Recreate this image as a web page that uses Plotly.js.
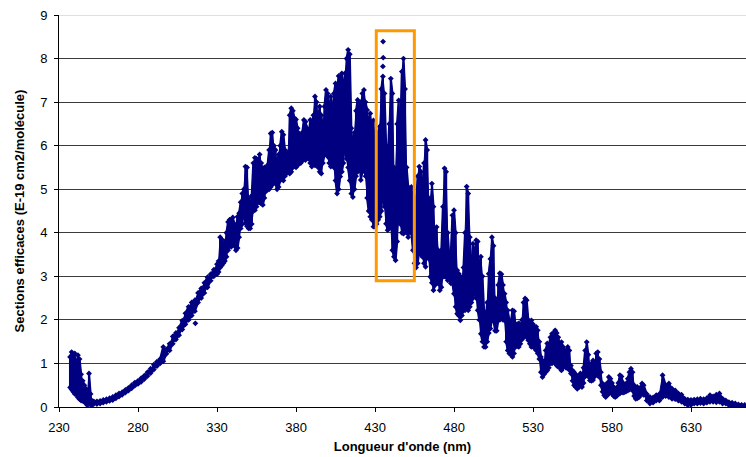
<!DOCTYPE html>
<html>
<head>
<meta charset="utf-8">
<script src="https://cdn.plot.ly/plotly-3.0.1.min.js"></script>
<style>
  html, body { margin: 0; padding: 0; background: #ffffff; }
  #chart { width: 746px; height: 457px; }
</style>
</head>
<body>
<div id="chart"></div>
<script>
// Wavelength (nm) at which the band of measured cross-sections is read
const wavelength = [
  237,238,239,240,241,242,243,244,245,246,247,248,249,250,251,252,
  254,256,258,260,262,264,266,268,270,272,274,276,278,280,282,284,286,288,290,292,294,296,298,300,
  302,304,306,308,310,312,314,316,318,320,322,324,326,328,330,
  331,332,333,334,335,336,337,338,339,340,
  341,342,343,344,345,346,347,348,349,350,
  351,352,353,354,355,356,357,358,359,360,
  361,362,363,364,365,366,367,368,369,370,
  371,372,373,374,375,376,377,378,379,380,
  381,382,383,384,385,386,387,388,389,390,
  391,392,393,394,395,396,397,398,399,400,
  401,402,403,404,405,406,407,408,409,410,
  411,412,413,414,415,416,417,418,419,420,
  421,422,423,424,425,426,427,428,429,430,
  431,432,433,434,435,436,437,438,439,440,
  441,442,443,444,445,446,447,448,449,450,
  451,452,453,454,455,456,457,458,459,460,
  461,462,463,464,465,466,467,468,469,470,
  471,472,473,474,475,476,477,478,479,480,
  481,482,483,484,485,486,487,488,489,490,
  491,492,493,494,495,496,497,498,499,500,
  501,502,503,504,505,506,507,508,509,510,
  511,512,513,514,515,516,517,518,519,520,
  521,522,523,524,525,526,527,528,529,530,
  531,532,533,534,535,536,537,538,539,540,
  541,542,543,544,545,546,547,548,549,550,
  551,552,553,554,555,556,557,558,559,560,
  561,562,563,564,565,566,567,568,569,570,
  571,572,573,574,575,576,577,578,579,580,
  581,582,583,584,585,586,587,588,589,590,
  591,592,593,594,595,596,597,598,599,600,
  602,604,606,608,610,612,614,616,618,620,622,624,626,628,630,632,
  634,636,638,640,642,644,646,648,650,652,654,656,658,660,662,664
];

// Lower edge of the band (E-19 cm2/molecule)
const sigmaLow = [
  0.45,0.40,0.35,0.30,0.28,0.22,0.18,0.15,0.14,0.12,0.08,0.04,0.10,0.05,0.05,0.07,
  0.07,0.08,0.10,0.12,0.14,0.16,0.20,0.24,0.28,0.33,0.38,0.43,0.49,0.53,0.58,0.64,0.71,0.78,0.86,0.94,1.00,1.05,1.22,1.30,
  1.45,1.55,1.65,1.78,1.90,2.00,2.10,2.20,2.40,2.50,2.62,2.75,2.90,3.00,3.05,
  3.10,3.20,3.25,3.30,3.35,3.45,3.60,3.70,3.68,3.75,
  3.70,3.60,3.65,3.90,4.10,4.20,4.40,4.22,4.15,4.10,
  4.10,4.20,4.50,4.52,4.60,4.70,4.70,4.67,4.64,4.80,
  4.95,5.00,5.00,5.05,5.10,5.20,5.13,5.00,5.05,5.20,
  5.25,5.20,5.30,5.36,5.40,5.36,5.40,5.50,5.55,5.50,
  5.55,5.59,5.60,5.65,5.70,5.67,5.75,5.70,5.60,5.52,
  5.60,5.55,5.60,5.50,5.40,5.36,5.60,5.80,5.85,5.75,
  5.60,5.52,5.60,5.50,5.20,4.90,5.00,5.29,5.40,5.60,
  5.90,5.70,5.50,5.20,4.90,4.82,5.00,5.30,5.40,5.50,
  5.21,5.40,5.50,5.30,4.80,4.50,4.37,4.30,4.14,4.14,
  4.20,4.30,4.37,4.50,4.80,4.60,4.21,4.06,4.10,4.14,
  3.60,3.45,3.37,3.80,4.36,4.20,4.00,3.98,4.10,4.00,
  3.90,4.06,4.00,3.60,3.30,3.20,3.30,3.60,3.50,3.45,
  3.30,3.22,3.45,3.40,2.99,2.85,2.68,2.80,2.84,2.84,
  2.68,2.75,2.99,3.00,2.99,2.91,2.95,2.84,2.84,2.60,
  2.30,2.14,2.10,1.99,2.10,2.22,2.22,2.30,2.22,2.30,
  2.40,2.50,2.60,2.50,2.22,2.00,1.68,1.50,1.38,1.38,
  1.50,1.70,1.80,1.99,2.00,1.75,1.75,1.99,2.00,2.05,
  2.00,1.99,1.50,1.30,1.23,1.20,1.15,1.23,1.38,1.40,
  1.38,1.45,1.55,1.60,1.68,1.60,1.53,1.45,1.38,1.40,
  1.35,1.30,1.23,1.10,0.80,0.69,0.75,0.80,0.84,0.90,
  1.00,1.00,1.05,1.00,0.95,0.92,0.90,0.84,0.90,0.95,
  0.90,0.92,0.85,0.77,0.60,0.50,0.46,0.42,0.45,0.50,
  0.46,0.55,0.70,0.77,0.70,0.61,0.60,0.62,0.70,0.75,
  0.72,0.69,0.50,0.35,0.27,0.23,0.27,0.30,0.35,0.30,
  0.25,0.23,0.25,0.30,0.31,0.35,0.33,0.34,0.36,0.38,
  0.40,0.42,0.38,0.25,0.19,0.20,0.22,0.27,0.30,0.28,
  0.15,0.08,0.10,0.15,0.15,0.23,0.25,0.23,0.19,0.18,0.15,0.12,0.08,0.04,0.05,0.08,
  0.08,0.09,0.08,0.10,0.12,0.12,0.11,0.12,0.08,0.08,0.04,0.02,0.01,0.01,0.00,0.00
];

// Upper edge of the band (E-19 cm2/molecule)
const sigmaHigh = [
  1.15,1.26,1.20,1.23,1.00,1.19,1.10,0.75,0.60,0.50,0.42,0.30,0.77,0.30,0.14,0.13,
  0.13,0.14,0.16,0.18,0.20,0.23,0.27,0.31,0.34,0.39,0.44,0.50,0.56,0.60,0.66,0.72,0.80,0.88,0.97,1.04,1.10,1.38,1.32,1.45,
  1.62,1.70,1.82,1.98,2.15,2.30,2.40,2.45,2.62,2.72,2.85,2.98,3.05,3.15,3.28,
  3.35,3.90,3.85,3.75,3.80,4.00,4.25,4.30,4.29,4.35,
  4.20,4.10,4.37,4.45,4.70,4.90,5.00,5.52,5.50,4.80,
  4.70,4.85,5.60,5.72,5.70,5.60,5.80,5.60,5.40,5.50,
  5.45,5.55,5.90,6.28,6.30,6.00,5.90,5.60,5.80,6.00,
  6.32,6.25,5.90,5.80,5.85,6.70,6.86,6.80,6.63,6.60,
  6.40,6.28,6.20,6.30,6.59,6.55,6.40,6.20,6.59,6.50,
  6.70,7.13,7.00,6.60,6.90,6.70,6.40,6.90,7.28,7.20,
  6.90,7.13,6.90,7.20,7.43,7.30,7.60,7.50,7.66,7.40,
  7.66,8.00,8.20,8.10,6.40,6.13,6.30,6.80,7.05,6.90,
  7.00,7.20,7.28,7.00,6.82,6.60,6.74,6.50,6.58,6.20,
  5.80,6.30,6.44,7.30,7.59,7.20,6.00,5.60,6.50,7.54,
  7.20,5.50,5.36,6.50,7.04,6.20,7.70,8.00,7.30,5.50,
  5.05,4.98,5.05,4.90,4.82,4.60,5.30,5.52,5.40,5.00,
  5.60,6.13,5.90,4.80,4.75,5.13,4.60,4.00,4.13,3.60,
  3.50,3.60,4.60,5.48,5.40,4.00,3.45,3.50,4.40,4.52,
  4.00,3.14,3.06,3.00,2.90,3.20,4.00,5.06,4.90,3.90,
  3.20,3.75,3.60,3.83,3.80,3.30,3.45,3.00,2.20,1.99,
  2.40,3.06,3.40,3.90,3.70,2.50,2.40,2.80,3.07,3.05,
  2.80,2.60,2.40,2.22,1.99,1.95,2.22,2.20,1.84,1.90,
  1.92,1.80,2.00,2.40,2.49,2.45,2.00,1.95,1.99,1.90,
  1.80,1.84,1.76,1.50,1.15,1.07,1.00,1.30,1.46,1.40,
  1.60,1.68,1.70,1.76,1.70,1.60,1.40,1.49,1.38,1.30,
  1.30,1.38,1.30,0.95,0.84,0.80,0.75,0.70,0.70,0.77,
  0.75,0.90,1.30,1.49,1.20,0.95,1.00,1.07,1.00,1.23,
  1.26,1.10,0.80,0.54,0.50,0.45,0.55,0.69,0.65,0.55,
  0.46,0.40,0.45,0.55,0.73,0.70,0.55,0.50,0.54,0.65,
  0.80,0.88,0.80,0.50,0.40,0.46,0.40,0.45,0.54,0.50,
  0.30,0.23,0.22,0.27,0.30,0.73,0.50,0.54,0.42,0.38,0.31,0.28,0.19,0.17,0.16,0.17,
  0.18,0.19,0.18,0.20,0.27,0.24,0.28,0.31,0.19,0.15,0.11,0.10,0.08,0.06,0.05,0.05
];

// Isolated points standing outside the band
const strayX = [316.3, 435.1, 435.2, 435.0];
const strayY = [1.92, 8.39, 8.02, 7.82];

// Highlighted window (nm, E-19 cm2/molecule)
const boxNm = [430.8, 454.9];
const boxSigma = [2.90, 8.64];

if (wavelength.length !== sigmaLow.length || wavelength.length !== sigmaHigh.length) {
  throw new Error('length mismatch ' + wavelength.length + ' ' + sigmaLow.length + ' ' + sigmaHigh.length);
}

// Filled envelope between low and high edges
const envX = wavelength.concat(wavelength.slice().reverse());
const envY = sigmaHigh.concat(sigmaLow.slice().reverse());

// Band drawn as a dense zigzag of points from low to high edge
const bx = [], by = [];
for (let i = 0; i < wavelength.length; i++) {
  if (i % 2 === 0) {
    bx.push(wavelength[i], wavelength[i]); by.push(sigmaLow[i], sigmaHigh[i]);
  } else {
    bx.push(wavelength[i], wavelength[i]); by.push(sigmaHigh[i], sigmaLow[i]);
  }
}

const navy = '#000080';
const traces = [
  { x: envX, y: envY, type: 'scatter', mode: 'lines', fill: 'toself',
    fillcolor: navy, line: { color: navy, width: 1 },
    hoverinfo: 'skip', showlegend: false },
  { x: bx, y: by, type: 'scatter', mode: 'lines+markers',
    line: { color: navy, width: 2.2 },
    marker: { symbol: 'diamond', size: 4.5, color: navy },
    hoverinfo: 'skip', showlegend: false },
  { x: strayX, y: strayY, type: 'scatter', mode: 'markers',
    marker: { symbol: 'diamond', size: 4.5, color: navy },
    showlegend: false }
];

const font = { family: 'Liberation Sans, Arial, sans-serif', size: 13, color: '#000000' };

const layout = {
  width: 746, height: 457,
  margin: { l: 59, r: 0, t: 15, b: 50, pad: 0 },
  paper_bgcolor: '#ffffff', plot_bgcolor: '#ffffff',
  font: font,
  showlegend: false,
  xaxis: {
    range: [230, 664.8], tick0: 230, dtick: 50, tickmode: 'linear',
    showgrid: false, zeroline: false,
    showline: true, linecolor: '#000000', linewidth: 1,
    ticks: 'outside', ticklen: 4, tickcolor: '#000000',
    ticklabelstandoff: 4,
    tickfont: { family: font.family, size: 13, color: '#000' },
    title: { text: "Longueur d'onde (nm)", font: { family: font.family, size: 13, color: '#000', weight: 'bold' }, standoff: 8 }
  },
  yaxis: {
    range: [0, 9], dtick: 1, tick0: 0, tickmode: 'linear',
    showgrid: true, gridcolor: '#3a3a3a', gridwidth: 1,
    zeroline: false,
    showline: true, linecolor: '#000000', linewidth: 1,
    ticks: 'outside', ticklen: 4, tickcolor: '#000000',
    ticklabelstandoff: 4,
    tickfont: { family: font.family, size: 13, color: '#000' },
    title: { text: 'Sections efficaces (E-19 cm2/molécule)', font: { family: font.family, size: 13, color: '#000', weight: 'bold' }, standoff: 12 }
  },
  shapes: [
    { type: 'line', xref: 'paper', yref: 'y', x0: 0, x1: 1, y0: 9, y1: 9,
      line: { color: '#c0c0c0', width: 1 }, layer: 'above' },
    { type: 'rect', xref: 'x', yref: 'y', x0: boxNm[0], x1: boxNm[1], y0: boxSigma[0], y1: boxSigma[1],
      line: { color: '#ff9900', width: 3 }, fillcolor: 'rgba(0,0,0,0)', layer: 'above' }
  ]
};

Plotly.newPlot('chart', traces, layout, { displayModeBar: false, staticPlot: true });
</script>
</body>
</html>
